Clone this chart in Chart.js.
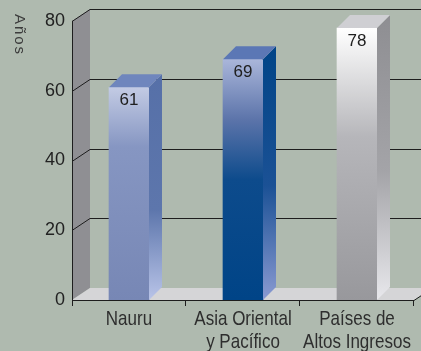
<!DOCTYPE html>
<html>
<head>
<meta charset="utf-8">
<script src="https://cdn.jsdelivr.net/npm/chart.js@4/dist/chart.umd.min.js"></script>
<style>
  html, body { margin: 0; padding: 0; background: #afbaaf; }
  #wrap { width: 421px; height: 351px; }
</style>
</head>
<body>
<div id="wrap"><canvas id="chartCanvas" width="421" height="351"></canvas></div>
<script>
// life expectancy, years
const categories = ["Nauru", ["Asia Oriental", "y Pacífico"], ["Países de", "Altos Ingresos"]];
const years = [61, 69, 78];
const yTicks = [0, 20, 40, 60, 80];
const axisTitle = "Años";

const plainFont = "'Liberation Sans', Arial, sans-serif";

// wall depth and bar depth of the fake 3D box
const WALL_DX = 18, WALL_DY = -12;
const BAR_DX = 13, BAR_DY = -13;

// front / side / top colours for each bar
const frontStops = [
    [[0, "#c3cbe4"], [0.28, "#8696c2"], [1, "#7787b5"]],
    [[0, "#aab6da"], [0.25, "#5c74aa"], [0.5, "#0d4b8c"], [1, "#004487"]],
    [[0, "#ffffff"], [0.4, "#b6b6ba"], [1, "#98989c"]],
];
const sideStops = [
    [[0, "#5670a8"], [0.6, "#5d76ac"], [1, "#b9c4e8"]],
    [[0, "#004487"], [0.55, "#1b5195"], [1, "#8a9ad2"]],
    [[0, "#8e8e92"], [0.55, "#a4a4a8"], [1, "#e8e8ec"]],
];
const topColors = ["#6f86bd", "#5b77b5", "#cfcfd3"];

function vGradient(ctx, y0, y1, stops) {
    const g = ctx.createLinearGradient(0, y0, 0, y1);
    stops.forEach(s => g.addColorStop(s[0], s[1]));
    return g;
}

function line(ctx, pts) {
    ctx.beginPath();
    ctx.moveTo(pts[0][0], pts[0][1]);
    for (let i = 1; i < pts.length; i++) ctx.lineTo(pts[i][0], pts[i][1]);
    ctx.stroke();
}

function poly(ctx, pts, fill) {
    ctx.beginPath();
    ctx.moveTo(pts[0][0], pts[0][1]);
    for (let i = 1; i < pts.length; i++) ctx.lineTo(pts[i][0], pts[i][1]);
    ctx.closePath();
    ctx.fillStyle = fill;
    ctx.fill();
}

const boxPlugin = {
    id: "box3d",
    beforeDatasetsDraw(chart) {
        const { ctx, chartArea: a, scales } = chart;
        const L = a.left, R = a.right, T = a.top, B = a.bottom;
        ctx.save();

        // left wall and floor
        poly(ctx, [[L, T], [L + WALL_DX, T + WALL_DY], [L + WALL_DX, B + WALL_DY], [L, B]], "#8f8f93");
        poly(ctx, [[L, B], [L + WALL_DX, B + WALL_DY], [R + WALL_DX, B + WALL_DY], [R, B]], "#d5d5d7");

        ctx.strokeStyle = "#1e1e1e";
        ctx.lineWidth = 1;
        // grid lines on left wall and back wall
        yTicks.forEach(v => {
            if (v === 0) return;
            const y = Math.round(scales.y.getPixelForValue(v)) + 0.5;
            line(ctx, [[L, y], [L + WALL_DX, y + WALL_DY], [chart.width, y + WALL_DY]]);
        });

        // front axis lines
        line(ctx, [[L + 0.5, T], [L + 0.5, B + 6]]);
        line(ctx, [[L, B + 0.5], [R, B + 0.5], [R + WALL_DX, B + 0.5 + WALL_DY]]);

        // category separators
        const step = (R - L) / categories.length;
        for (let i = 1; i <= categories.length; i++) {
            const px = Math.round(L + step * i) - 0.5;
            line(ctx, [[px, B], [px, B + 6]]);
        }
        ctx.restore();
    },
    afterDatasetsDraw(chart) {
        const { ctx, scales } = chart;
        const meta = chart.getDatasetMeta(0);
        ctx.save();
        meta.data.forEach((bar, i) => {
            const half = bar.width / 2;
            const left = bar.x - half, right = bar.x + half;
            const top = bar.y, base = bar.base;

            // side face
            ctx.beginPath();
            ctx.moveTo(right, top);
            ctx.lineTo(right + BAR_DX, top + BAR_DY);
            ctx.lineTo(right + BAR_DX, base + BAR_DY);
            ctx.lineTo(right, base);
            ctx.closePath();
            ctx.fillStyle = vGradient(ctx, top + BAR_DY, base, sideStops[i]);
            ctx.fill();

            // top face
            poly(ctx, [[left, top], [left + BAR_DX, top + BAR_DY], [right + BAR_DX, top + BAR_DY], [right, top]], topColors[i]);

            // value label
            ctx.fillStyle = "#202020";
            ctx.font = "17px " + plainFont;
            ctx.textAlign = "center";
            ctx.textBaseline = "middle";
            ctx.fillText(String(years[i]), bar.x, top + 13);
        });

        // category labels in a narrow face
        ctx.fillStyle = "#2e2e2e";
        ctx.font = "21px " + plainFont;
        ctx.textAlign = "center";
        ctx.textBaseline = "alphabetic";
        categories.forEach((lab, i) => {
            const lines = Array.isArray(lab) ? lab : [lab];
            const cx = scales.x.getPixelForTick(i);
            lines.forEach((t, k) => {
                ctx.save();
                ctx.translate(cx, chart.chartArea.bottom + 25 + k * 23);
                ctx.scale(0.81, 1);
                ctx.fillText(t, 0, 0);
                ctx.restore();
            });
        });

        // vertical axis title, reading downwards
        ctx.translate(12, 35);
        ctx.rotate(Math.PI / 2);
        ctx.fillStyle = "#3c3c3c";
        ctx.font = "15px " + plainFont;
        ctx.letterSpacing = "2px";
        ctx.textAlign = "center";
        ctx.textBaseline = "bottom";
        ctx.fillText(axisTitle, 0, 0);
        ctx.restore();
    },
};

const ctx = document.getElementById("chartCanvas").getContext("2d");
const chart = new Chart(ctx, {
    type: "bar",
    data: {
        labels: categories,
        datasets: [{
            data: years,
            barThickness: 40,
            borderWidth: 0,
            backgroundColor: c => {
                const bar = c.chart.getDatasetMeta(0).data[c.dataIndex];
                if (!bar || !c.chart.chartArea) return "#7787b5";
                const top = c.chart.scales.y.getPixelForValue(years[c.dataIndex]);
                return vGradient(c.chart.ctx, top, c.chart.chartArea.bottom, frontStops[c.dataIndex]);
            },
        }],
    },
    options: {
        responsive: false,
        animation: false,
        layout: { padding: { top: 21, right: 7, bottom: 0, left: 0 } },
        plugins: {
            legend: { display: false },
            tooltip: { enabled: false },
        },
        scales: {
            x: {
                offset: true,
                grid: { display: false, drawTicks: false },
                border: { display: false },
                afterFit: s => { s.height = 51; },
                ticks: { display: false },
            },
            y: {
                min: 0,
                max: 80,
                grid: { display: false, drawTicks: false },
                border: { display: false },
                afterFit: s => { s.width = 72; },
                afterBuildTicks: s => { s.ticks = yTicks.map(v => ({ value: v })); },
                ticks: {
                    color: "#222222",
                    padding: 7,
                    font: { family: plainFont, size: 18 },
                },
            },
        },
    },
    plugins: [boxPlugin],
});
</script>
</body>
</html>
